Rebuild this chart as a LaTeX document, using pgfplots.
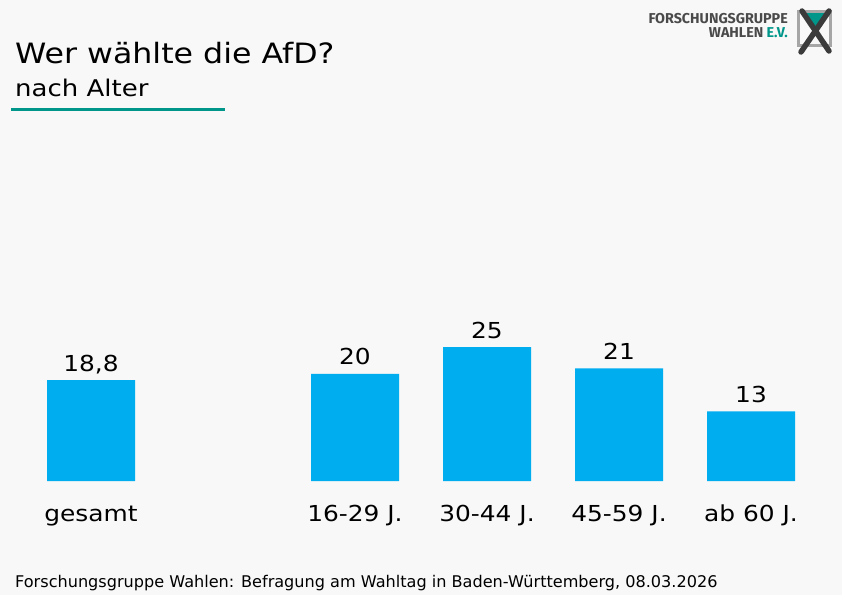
\documentclass[border=0pt]{standalone}
\usepackage{fontspec}
\setmainfont{DejaVu Sans}
\newfontfamily\widefont{DejaVu Sans}[FakeStretch=1.13]
\newfontfamily\logofont{Fira Sans}
\usepackage{pgfplots}
\pgfplotsset{compat=1.18}
\definecolor{bg}{HTML}{F8F8F8}
\definecolor{barblue}{HTML}{00AEEF}
\definecolor{fgwteal}{HTML}{00978A}
\definecolor{logogrey}{HTML}{4A4A4A}
\begin{document}
\begin{tikzpicture}[x=1pt,y=1pt]
\useasboundingbox (0,0) rectangle (842,595);
\fill[bg] (0,0) rectangle (842,595);
% title
\node[anchor=base west, inner sep=0pt] at (15,531.5) {\widefont\fontsize{28}{32}\selectfont Wer wählte die AfD?};
\node[anchor=base west, inner sep=0pt] at (15,498) {\widefont\fontsize{23}{27}\selectfont nach Alter};
\fill[fgwteal] (11,484) rectangle (225,487);
% footer
\node[anchor=base west, inner sep=0pt] at (15,8) {\fontsize{16.1}{19}\selectfont Forschungsgruppe Wahlen: Befragung am Wahltag in Baden-Württemberg, 08.03.2026};
% logo
\node[anchor=base east, inner sep=0pt, text=logogrey] at (788,571) {\logofont\bfseries\fontsize{14.3}{16}\selectfont FORSCHUNGSGRUPPE};
\node[anchor=base east, inner sep=0pt, text=logogrey] at (788,557) {\logofont\bfseries\fontsize{14.3}{16}\selectfont WAHLEN \textcolor{fgwteal}{E.V.}};
\fill[fgwteal] (800,583) -- (828,583) -- (814,566) -- cycle;
\draw[gray!70, line width=3pt] (798.5,583.5) rectangle (830.5,549.5);
\draw[logogrey!80!black, line width=5.5pt, line cap=round] (802,584) -- (829,544);
\draw[logogrey!80!black, line width=5.5pt, line cap=round] (829,584) -- (801,543);
\begin{axis}[
  at={(25pt,114pt)}, anchor=south west,
  scale only axis, width=792pt, height=134pt,
  xmin=-0.5, xmax=5.5, ymin=0, ymax=25,
  clip=false,
  axis line style={draw=none}, tick style={draw=none},
  ytick=\empty,
  xtick={0,2,3,4,5},
  xticklabels={gesamt,16-29 J.,30-44 J.,45-59 J.,ab 60 J.},
  xticklabel style={font=\widefont\fontsize{22}{26}\selectfont, anchor=base, yshift=-36pt, inner sep=0pt},
  ybar, bar width=88pt,
  nodes near coords,
  point meta=explicit symbolic,
  every node near coord/.append style={font=\widefont\fontsize{22}{26}\selectfont, anchor=base, yshift=9pt, inner sep=0pt, text=black},
]
\addplot[fill=barblue, draw=none] coordinates {(0,18.8)[18,8] (2,20)[20] (3,25)[25] (4,21)[21] (5,13)[13]};
\end{axis}
\end{tikzpicture}
\end{document}
